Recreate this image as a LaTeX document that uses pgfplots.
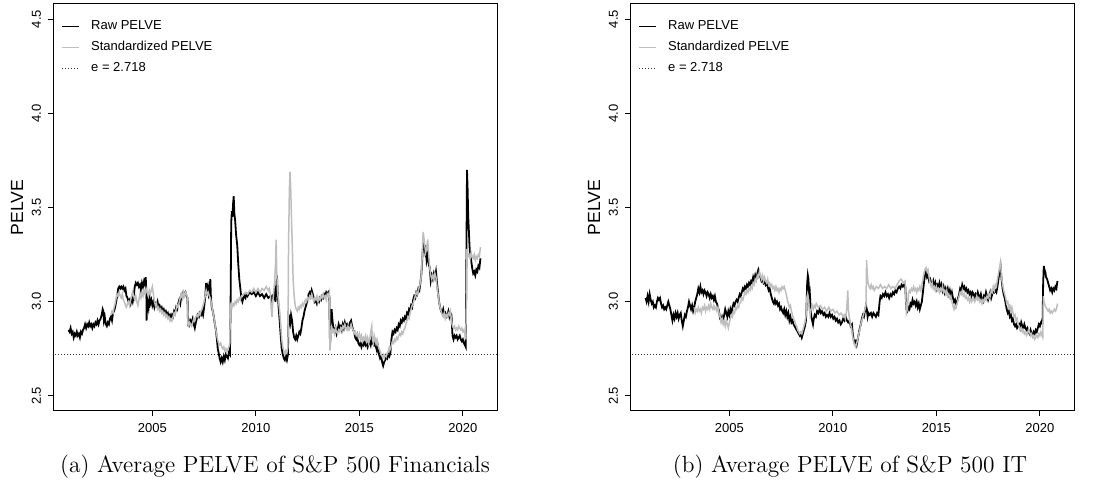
\documentclass[border=0pt]{standalone}
\usepackage{pgfplots}
\pgfplotsset{compat=1.18}
\usepackage{pgfplotstable}
\usepackage{fontspec}
\newfontfamily\arial{Liberation Sans}
\definecolor{rgrey}{HTML}{BEBEBE}

\pgfplotstableread{
x y
2000.95 2.85
2001.00 2.84
2001.05 2.86
2001.10 2.83
2001.15 2.84
2001.20 2.81
2001.25 2.83
2001.30 2.82
2001.35 2.84
2001.40 2.82
2001.45 2.83
2001.50 2.81
2001.55 2.84
2001.60 2.83
2001.65 2.85
2001.70 2.86
2001.75 2.88
2001.80 2.86
2001.85 2.88
2001.90 2.87
2001.95 2.89
2002.00 2.87
2002.05 2.88
2002.10 2.86
2002.15 2.88
2002.20 2.87
2002.25 2.89
2002.30 2.88
2002.35 2.90
2002.40 2.88
2002.45 2.90
2002.50 2.91
2002.55 2.93
2002.60 2.96
2002.63 2.95
2002.66 2.90
2002.70 2.92
2002.75 2.88
2002.80 2.87
2002.85 2.89
2002.90 2.88
2002.95 2.91
2003.00 2.92
2003.05 2.90
2003.10 2.94
2003.15 2.95
2003.20 2.97
2003.25 3.00
2003.30 3.03
2003.35 3.07
2003.40 3.08
2003.45 3.07
2003.50 3.08
2003.55 3.07
2003.60 3.08
2003.65 3.06
2003.70 3.07
2003.75 3.03
2003.80 3.02
2003.85 3.00
2003.90 3.01
2003.95 2.99
2004.00 3.02
2004.05 3.00
2004.10 3.03
2004.15 3.08
2004.20 3.10
2004.25 3.09
2004.30 3.10
2004.35 3.08
2004.40 3.09
2004.45 3.06
2004.50 3.10
2004.55 3.08
2004.60 3.11
2004.65 3.09
2004.68 3.13
2004.71 3.05
2004.72 2.90
2004.74 2.96
2004.78 3.00
2004.82 2.97
2004.86 3.02
2004.90 2.99
2004.95 3.01
2005.00 2.98
2005.05 3.00
2005.10 2.97
2005.15 2.99
2005.20 2.98
2005.25 3.00
2005.30 2.97
2005.35 2.98
2005.40 2.96
2005.45 2.97
2005.50 2.95
2005.55 2.96
2005.60 2.94
2005.65 2.95
2005.70 2.93
2005.75 2.94
2005.80 2.92
2005.85 2.93
2005.90 2.91
2005.95 2.93
2006.00 2.92
2006.05 2.95
2006.10 2.94
2006.15 2.97
2006.20 2.96
2006.25 2.99
2006.30 3.01
2006.35 2.99
2006.40 3.03
2006.45 3.02
2006.50 3.05
2006.55 3.04
2006.60 3.05
2006.65 3.03
2006.70 3.02
2006.72 2.89
2006.76 2.90
2006.80 2.88
2006.85 2.90
2006.90 2.89
2006.95 2.91
2007.00 2.88
2007.05 2.86
2007.10 2.89
2007.15 2.91
2007.20 2.93
2007.25 2.92
2007.30 2.94
2007.35 2.93
2007.40 2.95
2007.45 2.93
2007.50 2.97
2007.55 3.02
2007.60 3.10
2007.64 3.06
2007.68 3.08
2007.72 3.04
2007.76 3.06
2007.80 3.12
2007.83 3.02
2007.87 2.97
2007.92 2.95
2007.97 2.92
2008.02 2.88
2008.07 2.85
2008.12 2.80
2008.16 2.75
2008.20 2.73
2008.25 2.70
2008.30 2.68
2008.35 2.70
2008.40 2.68
2008.45 2.71
2008.50 2.69
2008.55 2.72
2008.60 2.71
2008.65 2.70
2008.70 2.73
2008.75 2.72
2008.78 3.00
2008.81 3.42
2008.84 3.48
2008.87 3.45
2008.90 3.52
2008.93 3.56
2008.96 3.47
2009.00 3.43
2009.05 3.35
2009.10 3.30
2009.15 3.20
2009.20 3.12
2009.25 3.07
2009.30 3.02
2009.35 3.00
2009.40 3.02
2009.45 3.03
2009.50 3.02
2009.55 3.04
2009.60 3.03
2009.70 3.05
2009.80 3.04
2009.90 3.05
2010.00 3.03
2010.10 3.05
2010.20 3.03
2010.30 3.04
2010.40 3.02
2010.50 3.04
2010.60 3.02
2010.70 3.03
2010.75 3.01
2010.80 3.03
2010.85 3.02
2010.90 3.06
2010.95 3.00
2011.00 3.10
2011.02 3.14
2011.05 3.05
2011.10 2.97
2011.15 2.90
2011.20 2.82
2011.25 2.75
2011.30 2.72
2011.35 2.70
2011.40 2.69
2011.45 2.71
2011.50 2.69
2011.55 2.72
2011.58 2.93
2011.62 2.92
2011.66 2.89
2011.70 2.93
2011.75 2.90
2011.80 2.84
2011.85 2.81
2011.90 2.80
2011.95 2.82
2012.00 2.80
2012.05 2.82
2012.10 2.84
2012.15 2.83
2012.20 2.86
2012.25 2.90
2012.30 2.92
2012.35 2.95
2012.40 2.97
2012.45 2.99
2012.50 3.01
2012.55 3.04
2012.60 3.05
2012.65 3.03
2012.70 3.06
2012.75 3.04
2012.80 3.02
2012.85 3.00
2012.90 3.01
2012.95 2.99
2013.00 3.01
2013.05 3.00
2013.10 3.02
2013.15 3.01
2013.20 3.03
2013.25 3.02
2013.30 3.04
2013.35 3.03
2013.40 3.05
2013.45 3.04
2013.50 3.05
2013.55 3.03
2013.58 2.78
2013.62 2.82
2013.66 2.96
2013.70 2.90
2013.75 2.86
2013.80 2.84
2013.85 2.86
2013.90 2.83
2013.95 2.85
2014.00 2.88
2014.05 2.86
2014.10 2.87
2014.15 2.85
2014.20 2.88
2014.25 2.86
2014.30 2.89
2014.35 2.87
2014.40 2.88
2014.45 2.86
2014.50 2.87
2014.55 2.89
2014.60 2.90
2014.65 2.87
2014.70 2.85
2014.75 2.84
2014.80 2.81
2014.85 2.80
2014.90 2.82
2014.95 2.78
2015.00 2.77
2015.05 2.78
2015.10 2.76
2015.15 2.78
2015.20 2.77
2015.25 2.79
2015.30 2.77
2015.35 2.78
2015.40 2.76
2015.45 2.78
2015.50 2.79
2015.55 2.77
2015.60 2.80
2015.65 2.78
2015.70 2.77
2015.75 2.79
2015.80 2.76
2015.85 2.74
2015.90 2.76
2015.95 2.72
2016.00 2.70
2016.05 2.71
2016.10 2.68
2016.15 2.66
2016.20 2.68
2016.25 2.69
2016.30 2.71
2016.35 2.70
2016.40 2.72
2016.45 2.71
2016.50 2.73
2016.55 2.80
2016.60 2.84
2016.65 2.83
2016.70 2.85
2016.75 2.84
2016.80 2.86
2016.85 2.85
2016.90 2.88
2016.95 2.87
2017.00 2.90
2017.05 2.89
2017.10 2.91
2017.15 2.90
2017.20 2.92
2017.25 2.91
2017.30 2.94
2017.35 2.93
2017.40 2.96
2017.45 2.95
2017.50 2.98
2017.55 2.97
2017.60 3.01
2017.65 3.03
2017.70 3.02
2017.75 3.05
2017.80 3.04
2017.85 3.07
2017.90 3.06
2017.95 3.10
2018.00 3.15
2018.05 3.25
2018.10 3.33
2018.13 3.30
2018.17 3.27
2018.20 3.30
2018.25 3.22
2018.30 3.25
2018.35 3.20
2018.40 3.18
2018.45 3.11
2018.50 3.14
2018.55 3.12
2018.60 3.15
2018.65 3.13
2018.70 3.16
2018.75 3.10
2018.80 3.05
2018.85 3.00
2018.90 2.97
2018.95 2.95
2019.00 2.94
2019.05 2.96
2019.10 2.93
2019.15 2.94
2019.20 2.92
2019.25 2.93
2019.30 2.95
2019.35 2.92
2019.40 2.94
2019.45 2.93
2019.50 2.82
2019.55 2.80
2019.60 2.82
2019.65 2.81
2019.70 2.82
2019.75 2.80
2019.80 2.81
2019.85 2.82
2019.90 2.80
2019.95 2.79
2020.00 2.80
2020.05 2.78
2020.10 2.77
2020.14 2.76
2020.17 3.20
2020.20 3.70
2020.23 3.60
2020.26 3.45
2020.29 3.38
2020.32 3.30
2020.35 3.25
2020.40 3.22
2020.45 3.18
2020.50 3.15
2020.55 3.16
2020.60 3.14
2020.65 3.17
2020.70 3.16
2020.75 3.19
2020.80 3.18
2020.85 3.23
}\finraw

\pgfplotstableread{
x y
2003.00 2.93
2003.05 2.95
2003.10 2.94
2003.15 2.97
2003.20 2.99
2003.25 3.02
2003.30 3.04
2003.35 3.03
2003.40 3.05
2003.45 3.03
2003.50 3.02
2003.55 3.04
2003.60 3.01
2003.65 3.00
2003.70 2.98
2003.75 2.97
2003.80 2.99
2003.85 3.00
2003.90 2.98
2003.95 3.01
2004.00 3.03
2004.05 3.05
2004.10 3.03
2004.15 3.01
2004.20 3.03
2004.25 3.00
2004.30 2.98
2004.35 3.01
2004.40 3.04
2004.45 3.02
2004.50 3.05
2004.55 3.03
2004.60 3.06
2004.65 3.04
2004.70 3.07
2004.75 3.05
2004.80 3.03
2004.85 3.06
2004.90 3.04
2004.95 3.06
2005.00 3.08
2005.05 3.04
2005.10 3.00
2005.15 2.98
2005.20 2.99
2005.25 2.96
2005.30 2.97
2005.35 2.95
2005.40 2.96
2005.45 2.94
2005.50 2.95
2005.55 2.93
2005.60 2.94
2005.65 2.92
2005.70 2.93
2005.75 2.91
2005.80 2.92
2005.85 2.90
2005.90 2.91
2005.95 2.90
2006.00 2.92
2006.05 2.94
2006.10 2.93
2006.15 2.96
2006.20 2.98
2006.25 2.97
2006.30 3.00
2006.35 3.02
2006.40 3.04
2006.45 3.02
2006.50 3.05
2006.55 3.03
2006.60 3.05
2006.65 3.04
2006.70 3.02
2006.72 2.88
2006.76 2.87
2006.80 2.89
2006.85 2.88
2006.90 2.87
2006.95 2.89
2007.00 2.91
2007.05 2.90
2007.10 2.92
2007.15 2.93
2007.20 2.92
2007.25 2.94
2007.30 2.93
2007.35 2.95
2007.40 2.96
2007.45 2.98
2007.50 3.00
2007.55 3.03
2007.60 3.06
2007.65 3.04
2007.70 3.05
2007.75 3.03
2007.80 3.02
2007.85 2.99
2007.90 2.96
2007.95 2.93
2008.00 2.90
2008.05 2.86
2008.10 2.83
2008.15 2.80
2008.20 2.78
2008.25 2.77
2008.30 2.78
2008.35 2.76
2008.40 2.75
2008.45 2.76
2008.50 2.74
2008.55 2.75
2008.60 2.73
2008.65 2.75
2008.70 2.76
2008.74 2.78
2008.77 2.98
2008.80 2.99
2008.85 2.97
2008.90 2.99
2008.95 2.98
2009.00 3.00
2009.05 2.99
2009.10 3.01
2009.15 3.00
2009.20 3.02
2009.25 3.01
2009.30 3.03
2009.40 3.04
2009.50 3.05
2009.60 3.04
2009.70 3.06
2009.80 3.05
2009.90 3.07
2010.00 3.05
2010.10 3.07
2010.20 3.05
2010.30 3.07
2010.40 3.06
2010.50 3.08
2010.60 3.06
2010.65 3.07
2010.70 3.04
2010.75 2.95
2010.78 2.92
2010.82 3.00
2010.86 3.05
2010.90 3.10
2010.95 3.20
2010.98 3.33
2011.01 3.15
2011.05 3.05
2011.10 3.00
2011.15 2.95
2011.20 2.88
2011.25 2.80
2011.30 2.76
2011.35 2.74
2011.40 2.72
2011.45 2.74
2011.50 2.73
2011.55 2.76
2011.58 3.30
2011.62 3.60
2011.65 3.69
2011.68 3.62
2011.72 3.45
2011.76 3.30
2011.80 3.12
2011.85 3.03
2011.90 2.98
2011.95 2.96
2012.00 2.95
2012.05 2.97
2012.10 2.96
2012.15 2.98
2012.20 2.97
2012.25 2.99
2012.30 2.98
2012.35 3.00
2012.40 3.01
2012.45 3.00
2012.50 3.02
2012.55 3.01
2012.60 3.03
2012.65 3.02
2012.70 3.04
2012.75 3.02
2012.80 3.00
2012.85 3.02
2012.90 3.01
2012.95 3.03
2013.00 3.00
2013.05 3.02
2013.10 3.01
2013.15 3.03
2013.20 3.02
2013.25 3.04
2013.30 3.02
2013.35 3.03
2013.40 3.01
2013.45 3.04
2013.50 3.03
2013.55 3.05
2013.58 2.74
2013.62 2.80
2013.66 2.86
2013.70 2.84
2013.75 2.85
2013.80 2.83
2013.85 2.86
2013.90 2.84
2013.95 2.83
2014.00 2.85
2014.05 2.84
2014.10 2.86
2014.15 2.85
2014.20 2.87
2014.25 2.86
2014.30 2.88
2014.35 2.86
2014.40 2.85
2014.45 2.87
2014.50 2.85
2014.55 2.86
2014.60 2.88
2014.65 2.86
2014.70 2.85
2014.75 2.83
2014.80 2.84
2014.85 2.82
2014.90 2.83
2014.95 2.81
2015.00 2.83
2015.05 2.80
2015.10 2.82
2015.15 2.79
2015.20 2.81
2015.25 2.80
2015.30 2.82
2015.35 2.79
2015.40 2.81
2015.45 2.78
2015.50 2.80
2015.55 2.84
2015.60 2.87
2015.63 2.80
2015.68 2.78
2015.72 2.82
2015.76 2.80
2015.80 2.78
2015.85 2.80
2015.90 2.77
2015.95 2.75
2016.00 2.74
2016.05 2.72
2016.10 2.71
2016.15 2.72
2016.20 2.70
2016.25 2.72
2016.30 2.71
2016.35 2.73
2016.40 2.74
2016.45 2.76
2016.50 2.75
2016.55 2.77
2016.60 2.79
2016.65 2.78
2016.70 2.80
2016.75 2.79
2016.80 2.81
2016.85 2.80
2016.90 2.82
2016.95 2.83
2017.00 2.82
2017.05 2.84
2017.10 2.83
2017.15 2.85
2017.20 2.86
2017.25 2.88
2017.30 2.90
2017.35 2.92
2017.40 2.91
2017.45 2.94
2017.50 2.96
2017.55 2.98
2017.60 2.99
2017.65 3.01
2017.70 3.03
2017.75 3.05
2017.80 3.04
2017.85 3.06
2017.90 3.08
2017.95 3.10
2018.00 3.15
2018.05 3.28
2018.08 3.37
2018.12 3.34
2018.16 3.30
2018.20 3.26
2018.25 3.28
2018.30 3.33
2018.35 3.25
2018.40 3.18
2018.45 3.14
2018.50 3.12
2018.55 3.14
2018.60 3.12
2018.65 3.15
2018.70 3.13
2018.75 3.08
2018.80 3.04
2018.85 3.00
2018.90 2.97
2018.95 2.95
2019.00 2.93
2019.05 2.92
2019.10 2.94
2019.15 2.91
2019.20 2.93
2019.25 2.92
2019.30 2.94
2019.35 2.93
2019.40 2.95
2019.45 2.90
2019.50 2.87
2019.55 2.86
2019.60 2.87
2019.65 2.85
2019.70 2.86
2019.75 2.85
2019.80 2.87
2019.85 2.86
2019.90 2.85
2019.95 2.86
2020.00 2.84
2020.05 2.85
2020.10 2.83
2020.14 2.80
2020.17 3.00
2020.20 3.28
2020.25 3.24
2020.30 3.25
2020.35 3.23
2020.40 3.26
2020.45 3.24
2020.50 3.23
2020.55 3.25
2020.60 3.22
2020.65 3.24
2020.70 3.23
2020.75 3.25
2020.80 3.24
2020.85 3.29
}\finstd

\pgfplotstableread{
x y
2000.95 3.02
2001.00 3.00
2001.05 3.03
2001.10 3.00
2001.15 3.04
2001.20 3.01
2001.25 2.99
2001.30 3.00
2001.35 2.97
2001.40 2.98
2001.45 2.97
2001.50 3.00
2001.55 3.02
2001.60 3.01
2001.65 3.02
2001.70 2.99
2001.75 2.97
2001.80 2.98
2001.85 2.96
2001.90 2.97
2001.95 2.96
2002.00 2.98
2002.05 3.00
2002.10 2.98
2002.15 2.96
2002.20 2.93
2002.25 2.90
2002.30 2.93
2002.35 2.91
2002.40 2.94
2002.45 2.92
2002.50 2.94
2002.55 2.91
2002.60 2.93
2002.65 2.94
2002.70 2.90
2002.75 2.87
2002.80 2.90
2002.85 2.93
2002.90 2.92
2002.95 2.95
2003.00 2.97
2003.05 3.00
2003.10 2.98
2003.15 2.96
2003.20 2.98
2003.25 2.95
2003.30 2.97
2003.35 3.00
2003.40 3.02
2003.45 3.04
2003.50 3.07
2003.55 3.05
2003.60 3.08
2003.65 3.05
2003.70 3.06
2003.75 3.04
2003.80 3.06
2003.85 3.05
2003.90 3.03
2003.95 3.05
2004.00 3.04
2004.05 3.02
2004.10 3.04
2004.15 3.02
2004.20 3.03
2004.25 3.01
2004.30 3.03
2004.35 3.00
2004.40 2.99
2004.45 2.97
2004.50 2.95
2004.55 2.91
2004.60 2.90
2004.65 2.92
2004.70 2.90
2004.75 2.93
2004.80 2.96
2004.85 2.94
2004.90 2.92
2004.95 2.95
2005.00 2.93
2005.05 2.96
2005.10 2.94
2005.15 2.97
2005.20 2.99
2005.25 2.98
2005.30 3.00
2005.35 3.01
2005.40 3.00
2005.45 3.02
2005.50 3.04
2005.55 3.03
2005.60 3.05
2005.65 3.07
2005.70 3.06
2005.75 3.08
2005.80 3.07
2005.85 3.09
2005.90 3.08
2005.95 3.10
2006.00 3.09
2006.05 3.11
2006.10 3.10
2006.15 3.13
2006.20 3.11
2006.25 3.14
2006.30 3.12
2006.35 3.15
2006.40 3.17
2006.45 3.15
2006.50 3.13
2006.55 3.11
2006.60 3.12
2006.65 3.10
2006.70 3.11
2006.75 3.09
2006.80 3.10
2006.85 3.08
2006.90 3.06
2006.95 3.07
2007.00 3.04
2007.05 3.02
2007.10 3.00
2007.15 2.99
2007.20 3.01
2007.25 2.99
2007.30 3.00
2007.35 2.98
2007.40 2.99
2007.45 2.96
2007.50 2.97
2007.55 2.95
2007.60 2.94
2007.65 2.96
2007.70 2.93
2007.75 2.95
2007.80 2.92
2007.85 2.94
2007.90 2.90
2007.95 2.92
2008.00 2.89
2008.05 2.90
2008.10 2.88
2008.15 2.87
2008.20 2.86
2008.25 2.85
2008.30 2.84
2008.35 2.83
2008.40 2.82
2008.45 2.83
2008.50 2.81
2008.55 2.83
2008.60 2.85
2008.65 2.87
2008.70 2.90
2008.73 2.98
2008.76 3.10
2008.79 3.14
2008.82 3.12
2008.85 3.05
2008.88 3.06
2008.92 2.98
2008.96 2.92
2009.00 2.90
2009.04 2.88
2009.08 2.91
2009.12 2.93
2009.18 2.92
2009.24 2.95
2009.30 2.94
2009.36 2.96
2009.42 2.94
2009.48 2.95
2009.54 2.93
2009.60 2.94
2009.66 2.92
2009.72 2.93
2009.78 2.92
2009.84 2.94
2009.90 2.92
2009.96 2.93
2010.02 2.91
2010.08 2.92
2010.14 2.90
2010.20 2.91
2010.26 2.89
2010.32 2.90
2010.38 2.88
2010.44 2.89
2010.50 2.91
2010.56 2.90
2010.62 2.92
2010.68 2.90
2010.74 2.89
2010.80 2.90
2010.86 2.87
2010.92 2.88
2010.96 2.83
2011.00 2.80
2011.05 2.78
2011.10 2.79
2011.15 2.77
2011.20 2.80
2011.25 2.83
2011.30 2.86
2011.35 2.88
2011.40 2.91
2011.45 2.93
2011.50 2.92
2011.55 2.95
2011.60 2.98
2011.64 2.96
2011.68 2.92
2011.72 2.94
2011.78 2.93
2011.84 2.94
2011.90 2.92
2011.96 2.94
2012.02 2.93
2012.08 2.92
2012.14 2.94
2012.20 2.93
2012.26 3.00
2012.30 3.03
2012.36 3.02
2012.42 3.04
2012.48 3.03
2012.54 3.05
2012.60 3.03
2012.66 3.04
2012.72 3.02
2012.78 3.04
2012.84 3.03
2012.90 3.05
2012.96 3.04
2013.02 3.06
2013.08 3.05
2013.14 3.07
2013.20 3.08
2013.26 3.07
2013.32 3.09
2013.38 3.08
2013.44 3.09
2013.50 3.08
2013.55 2.96
2013.60 2.95
2013.65 2.97
2013.70 2.96
2013.75 2.99
2013.80 2.98
2013.85 3.01
2013.90 2.99
2013.95 3.00
2014.00 2.98
2014.05 3.00
2014.10 2.97
2014.15 2.99
2014.20 2.96
2014.25 2.98
2014.30 3.00
2014.35 3.05
2014.40 3.10
2014.45 3.14
2014.50 3.16
2014.55 3.13
2014.60 3.14
2014.65 3.11
2014.70 3.12
2014.75 3.10
2014.80 3.09
2014.85 3.11
2014.90 3.08
2014.95 3.10
2015.00 3.07
2015.05 3.09
2015.10 3.08
2015.15 3.10
2015.20 3.07
2015.25 3.09
2015.30 3.06
2015.35 3.08
2015.40 3.05
2015.45 3.07
2015.50 3.05
2015.55 3.07
2015.60 3.04
2015.65 3.06
2015.70 3.03
2015.75 3.05
2015.80 3.02
2015.85 3.00
2015.90 3.01
2015.95 2.98
2016.00 3.00
2016.05 3.02
2016.10 3.04
2016.15 3.07
2016.20 3.06
2016.25 3.09
2016.30 3.07
2016.35 3.08
2016.40 3.06
2016.45 3.07
2016.50 3.05
2016.55 3.06
2016.60 3.04
2016.65 3.05
2016.70 3.03
2016.75 3.05
2016.80 3.04
2016.85 3.02
2016.90 3.04
2016.95 3.03
2017.00 3.05
2017.05 3.03
2017.10 3.02
2017.15 3.04
2017.20 3.01
2017.25 3.00
2017.30 3.03
2017.35 3.02
2017.40 3.05
2017.45 3.03
2017.50 3.01
2017.55 3.03
2017.60 3.05
2017.65 3.02
2017.70 3.04
2017.75 3.06
2017.80 3.05
2017.85 3.06
2017.90 3.05
2017.95 3.08
2018.00 3.12
2018.05 3.16
2018.10 3.19
2018.15 3.12
2018.20 3.07
2018.25 3.04
2018.30 3.02
2018.35 2.99
2018.40 2.96
2018.45 2.94
2018.50 2.95
2018.55 2.92
2018.60 2.93
2018.65 2.90
2018.70 2.91
2018.75 2.88
2018.80 2.87
2018.85 2.88
2018.90 2.86
2018.95 2.87
2019.00 2.88
2019.05 2.86
2019.10 2.89
2019.15 2.87
2019.20 2.86
2019.25 2.88
2019.30 2.86
2019.35 2.85
2019.40 2.86
2019.45 2.84
2019.50 2.83
2019.55 2.85
2019.60 2.83
2019.65 2.82
2019.70 2.84
2019.75 2.83
2019.80 2.85
2019.85 2.84
2019.90 2.86
2019.95 2.88
2020.00 2.87
2020.05 2.89
2020.10 2.90
2020.13 2.88
2020.16 3.10
2020.19 3.19
2020.22 3.17
2020.26 3.16
2020.30 3.13
2020.35 3.12
2020.40 3.10
2020.45 3.08
2020.50 3.06
2020.55 3.07
2020.60 3.05
2020.65 3.07
2020.70 3.06
2020.75 3.08
2020.80 3.07
2020.85 3.11
}\itraw

\pgfplotstableread{
x y
2003.30 2.97
2003.35 2.94
2003.40 2.96
2003.45 2.95
2003.50 2.97
2003.55 2.95
2003.60 2.96
2003.65 2.94
2003.70 2.97
2003.75 2.96
2003.80 2.98
2003.85 2.95
2003.90 2.97
2003.95 2.96
2004.00 2.98
2004.05 2.96
2004.10 2.99
2004.15 2.97
2004.20 2.96
2004.25 2.98
2004.30 2.96
2004.35 2.97
2004.40 2.95
2004.45 2.97
2004.50 2.94
2004.55 2.92
2004.60 2.89
2004.65 2.91
2004.70 2.88
2004.75 2.90
2004.80 2.87
2004.85 2.90
2004.90 2.88
2004.95 2.86
2005.00 2.89
2005.05 2.91
2005.10 2.93
2005.15 2.92
2005.20 2.95
2005.25 2.94
2005.30 2.97
2005.35 2.96
2005.40 2.98
2005.45 2.97
2005.50 2.99
2005.55 3.00
2005.60 3.02
2005.65 3.01
2005.70 3.03
2005.75 3.05
2005.80 3.04
2005.85 3.06
2005.90 3.05
2005.95 3.07
2006.00 3.06
2006.05 3.08
2006.10 3.07
2006.15 3.10
2006.20 3.09
2006.25 3.12
2006.30 3.11
2006.35 3.14
2006.40 3.13
2006.45 3.16
2006.50 3.14
2006.55 3.12
2006.60 3.14
2006.65 3.11
2006.70 3.13
2006.75 3.11
2006.80 3.10
2006.85 3.12
2006.90 3.09
2006.95 3.10
2007.00 3.08
2007.05 3.09
2007.10 3.07
2007.15 3.08
2007.20 3.06
2007.25 3.08
2007.30 3.06
2007.35 3.07
2007.40 3.05
2007.45 3.07
2007.50 3.06
2007.55 3.08
2007.60 3.07
2007.65 3.08
2007.70 3.06
2007.75 3.04
2007.80 3.01
2007.85 2.99
2007.90 2.97
2007.95 2.98
2008.00 2.95
2008.05 2.93
2008.10 2.91
2008.15 2.90
2008.20 2.88
2008.25 2.87
2008.30 2.85
2008.35 2.84
2008.40 2.83
2008.45 2.84
2008.50 2.83
2008.55 2.85
2008.60 2.87
2008.65 2.89
2008.70 2.92
2008.74 3.02
2008.78 3.04
2008.82 3.00
2008.86 2.96
2008.90 2.93
2008.95 2.96
2009.00 2.98
2009.05 2.96
2009.10 2.98
2009.15 2.97
2009.20 2.99
2009.30 2.97
2009.40 2.98
2009.50 2.96
2009.60 2.97
2009.70 2.95
2009.80 2.97
2009.90 2.95
2010.00 2.96
2010.10 2.94
2010.20 2.95
2010.30 2.93
2010.40 2.94
2010.50 2.92
2010.55 2.93
2010.60 2.91
2010.65 2.94
2010.68 2.98
2010.72 3.06
2010.75 2.96
2010.80 2.91
2010.85 2.88
2010.90 2.86
2010.95 2.82
2011.00 2.79
2011.05 2.77
2011.10 2.76
2011.15 2.78
2011.20 2.80
2011.25 2.83
2011.30 2.85
2011.35 2.88
2011.40 2.90
2011.45 2.92
2011.50 2.94
2011.55 2.96
2011.60 2.98
2011.63 3.22
2011.66 3.15
2011.70 3.10
2011.75 3.08
2011.80 3.07
2011.85 3.09
2011.90 3.07
2011.95 3.08
2012.00 3.06
2012.10 3.08
2012.20 3.07
2012.30 3.09
2012.40 3.07
2012.50 3.08
2012.60 3.07
2012.70 3.09
2012.80 3.07
2012.90 3.08
2013.00 3.07
2013.10 3.09
2013.20 3.11
2013.30 3.12
2013.40 3.10
2013.50 3.11
2013.55 2.94
2013.60 2.96
2013.65 3.04
2013.70 3.06
2013.75 3.05
2013.80 3.07
2013.85 3.06
2013.90 3.08
2013.95 3.06
2014.00 3.07
2014.05 3.05
2014.10 3.07
2014.15 3.06
2014.20 3.08
2014.25 3.06
2014.30 3.09
2014.35 3.12
2014.40 3.15
2014.45 3.17
2014.50 3.18
2014.55 3.16
2014.60 3.17
2014.65 3.13
2014.70 3.10
2014.75 3.08
2014.80 3.10
2014.85 3.07
2014.90 3.08
2014.95 3.06
2015.00 3.08
2015.05 3.06
2015.10 3.07
2015.15 3.05
2015.20 3.07
2015.25 3.06
2015.30 3.08
2015.35 3.05
2015.40 3.06
2015.45 3.04
2015.50 3.06
2015.55 3.03
2015.60 3.04
2015.65 3.02
2015.70 3.03
2015.75 3.00
2015.80 2.98
2015.85 2.96
2015.90 2.98
2015.95 2.97
2016.00 2.99
2016.05 3.01
2016.10 3.03
2016.15 3.05
2016.20 3.04
2016.25 3.06
2016.30 3.03
2016.35 3.04
2016.40 3.02
2016.45 3.03
2016.50 3.01
2016.55 3.02
2016.60 3.00
2016.65 3.02
2016.70 3.00
2016.75 3.01
2016.80 3.02
2016.85 3.00
2016.90 3.01
2016.95 3.03
2017.00 3.01
2017.05 3.02
2017.10 3.00
2017.15 3.01
2017.20 2.99
2017.25 3.01
2017.30 3.00
2017.35 3.02
2017.40 3.01
2017.45 3.03
2017.50 3.02
2017.55 3.04
2017.60 3.03
2017.65 3.06
2017.70 3.05
2017.75 3.08
2017.80 3.06
2017.85 3.09
2017.90 3.08
2017.95 3.12
2018.00 3.15
2018.05 3.18
2018.10 3.21
2018.15 3.13
2018.20 3.09
2018.25 3.06
2018.30 3.04
2018.35 3.02
2018.40 2.99
2018.45 3.00
2018.50 2.97
2018.55 2.98
2018.60 2.95
2018.65 2.97
2018.70 2.94
2018.75 2.92
2018.80 2.93
2018.85 2.90
2018.90 2.91
2018.95 2.88
2019.00 2.87
2019.05 2.85
2019.10 2.86
2019.15 2.84
2019.20 2.85
2019.25 2.83
2019.30 2.84
2019.35 2.82
2019.40 2.83
2019.45 2.85
2019.50 2.84
2019.55 2.82
2019.60 2.83
2019.65 2.81
2019.70 2.82
2019.75 2.80
2019.80 2.81
2019.85 2.82
2019.90 2.81
2019.95 2.83
2020.00 2.82
2020.05 2.84
2020.10 2.82
2020.14 2.81
2020.17 3.03
2020.20 3.00
2020.25 2.98
2020.30 2.97
2020.35 2.96
2020.40 2.95
2020.45 2.96
2020.50 2.94
2020.55 2.95
2020.60 2.94
2020.65 2.95
2020.70 2.96
2020.75 2.95
2020.80 2.96
2020.85 2.99
}\itstd

\pgfplotsset{pelve/.style={
  width=222pt, height=203.5pt, scale only axis,
  anchor=south west,
  xmin=2000.2, xmax=2021.65, ymin=2.42, ymax=4.58,
  xtick={2005,2010,2015,2020},
  ytick={2.5,3,3.5,4,4.5},
  xtick pos=left, ytick pos=left,
  tick align=outside, major tick length=2.5pt,
  every tick/.style={black, line width=0.5pt},
  axis line style={black, line width=0.5pt},
  /pgf/number format/assume math mode=true,
  tick label style={font=\fontsize{6.5}{7.5}\selectfont\arial},
  x tick label style={/pgf/number format/1000 sep={}},
  y tick label style={rotate=90, anchor=south,
    /pgf/number format/fixed, /pgf/number format/fixed zerofill,
    /pgf/number format/precision=1},
  ylabel={PELVE},
  every axis y label/.style={at={(axis description cs:-0.081,0.5)}, rotate=90, anchor=center, font=\fontsize{8.8}{10}\selectfont\arial},
  legend style={at={(axis description cs:0,1)}, anchor=north west,
    xshift=4pt, yshift=-7.8pt, draw=none, fill=none, inner sep=0pt,
    font=\fontsize{6.5}{7.5}\selectfont\arial,
    row sep=4pt,
    nodes={inner sep=0pt, text height=5pt, text depth=1.5pt},
    /tikz/every odd column/.append style={column sep=5.5pt}},
  legend cell align=left,
  legend image code/.code={\draw[#1] (0pt,0pt) -- (8.5pt,0pt);},
}}

\begin{document}
\begin{tikzpicture}
\useasboundingbox (0,0) rectangle (551pt,240pt);
\begin{axis}[pelve, at={(26.5pt,34.5pt)}]
\addplot[black, line width=0.9pt] table[x=x,y=y] {\finraw};
\addlegendentry{Raw PELVE}
\addplot[rgrey, line width=0.75pt] table[x=x,y=y] {\finstd};
\addlegendentry{Standardized PELVE}
\addplot[black!80, line width=0.45pt, dash pattern=on 0.5pt off 1pt] coordinates {(2000,2.718) (2022,2.718)};
\addlegendentry{e = 2.718}
\end{axis}
\begin{axis}[pelve, at={(315pt,34.5pt)}]
\addplot[black, line width=0.9pt] table[x=x,y=y] {\itraw};
\addlegendentry{Raw PELVE}
\addplot[rgrey, line width=0.75pt] table[x=x,y=y] {\itstd};
\addlegendentry{Standardized PELVE}
\addplot[black!80, line width=0.45pt, dash pattern=on 0.5pt off 1pt] coordinates {(2000,2.718) (2022,2.718)};
\addlegendentry{e = 2.718}
\end{axis}
\node[anchor=base, font=\fontsize{11.7}{13.5}\selectfont] at (137.5pt,3.5pt) {(a) Average PELVE of S\&P 500 Financials};
\node[anchor=base, font=\fontsize{11.7}{13.5}\selectfont] at (425pt,3.5pt) {(b) Average PELVE of S\&P 500 IT};
\end{tikzpicture}
\end{document}
